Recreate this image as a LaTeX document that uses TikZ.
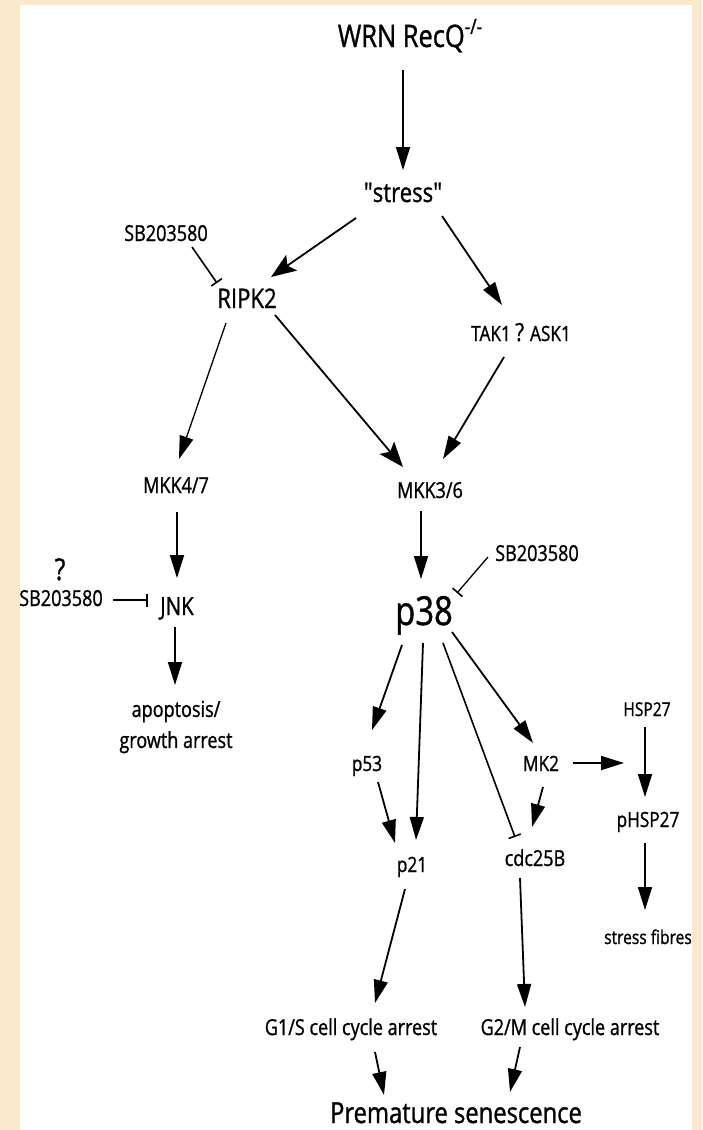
\documentclass[tikz,border=0pt]{standalone}
\usepackage{fontspec}
\setmainfont{Open Sans}[FakeStretch=0.82,FakeBold=1]
\newfontfamily\plainq{Open Sans}[FakeStretch=0.82,FakeBold=1]
\usetikzlibrary{arrows.meta,calc}
\definecolor{parch}{HTML}{F9EACB}
\begin{document}
\begin{tikzpicture}[x=1pt,y=-1pt,
  lbl/.style={inner sep=0pt,anchor=base,text=black},
  fs/.style={font=\fontsize{#1}{#1}\selectfont},
  act/.style={line width=1.8pt,-{Triangle[length=23pt,width=14pt]}},
  big/.style={line width=1.8pt,-{Stealth[length=25pt,width=19pt,inset=5pt]}},
  inh/.style={line width=1.6pt,-{Bar[width=13pt,line width=1.6pt]}}]
\useasboundingbox (0,0) rectangle (702,1130);
\fill[parch] (0,0) rectangle (702,1130);
\fill[white] (20,5) rectangle (692,1130);
% nodes
\node[lbl,fs=31] (wrn) at (410,47) {WRN RecQ\raisebox{0.42em}{\fontsize{21}{21}\selectfont -/-}};
\node[lbl,fs=27] (stress) at (403,202) {{\plainq"}stress{\plainq"}};
\node[lbl,fs=22] (sbA) at (166,241) {SB203580};
\node[lbl,fs=27] (ripk) at (247,308) {RIPK2};
\node[lbl,fs=21] (tak) at (521,341) {TAK1 {\fontsize{25}{25}\selectfont ?} ASK1};
\node[lbl,fs=22] (mkk47) at (176,493) {MKK4/7};
\node[lbl,fs=22] (mkk36) at (430,498) {MKK3/6};
\node[lbl,fs=22] (sbB) at (537,561) {SB203580};
\node[lbl,fs=30] (q) at (60,580) {?};
\node[lbl,fs=22] (sbC) at (61,606) {SB203580};
\node[lbl,fs=25] (jnk) at (177,615) {JNK};
\node[lbl,fs=40] (p38) at (424,625) {p38};
\node[inner sep=0pt,align=center,font=\fontsize{22}{31}\selectfont] (apo) at (176,727) {apoptosis/\\growth arrest};
\node[lbl,fs=19] (hsp) at (647,716) {HSP27};
\node[lbl,fs=21] (p53) at (367,771) {p53};
\node[lbl,fs=21] (mk2) at (541,771) {MK2};
\node[lbl,fs=21] (phsp) at (648,827) {pHSP27};
\node[lbl,fs=21] (p21) at (412,872) {p21};
\node[lbl,fs=22] (cdc) at (535,866) {cdc25B};
\node[lbl,fs=19] (fib) at (648,944) {stress fibres};
\node[lbl,fs=22] (g1) at (351,1035) {G1/S cell cycle arrest};
\node[lbl,fs=22] (g2) at (570,1035) {G2/M cell cycle arrest};
\node[lbl,fs=29] (pre) at (456,1123) {Premature senescence};
\coordinate (hspline) at ($(mk2.base)+(83,-8)$);
% connectors
\draw[act] ($(wrn.base)+(-7,23)$) -- ($(stress.base)+(0,-32)$);
\draw[big] ($(stress.base)+(-47,16)$) -- ($(ripk.base)+(24,-31)$);
\draw[act] ($(stress.base)+(39,14)$) -- ($(tak.base)+(-19,-36)$);
\draw[inh] ($(sbA.base)+(26,6)$) -- ($(ripk.base)+(-30,-25)$);
\draw[act,line width=1.3pt] ($(ripk.base)+(-21,15)$) -- ($(mkk47.base)+(3,-34)$);
\draw[big] ($(ripk.base)+(28,7)$) -- ($(mkk36.base)+(-27,-31)$);
\draw[act] ($(tak.base)+(-17,16)$) -- ($(mkk36.base)+(13,-39)$);
\draw[act] ($(mkk47.base)+(1,19)$) -- ($(jnk.base)+(0,-37)$);
\draw[act] ($(mkk36.base)+(-9,13)$) -- ($(p38.base)+(-3,-46)$);
\draw[inh,line width=1.3pt] ($(sbB.base)+(-49,-4)$) -- ($(p38.base)+(33,-32)$);
\draw[inh] ($(sbC.base)+(52,-6)$) -- ($(jnk.base)+(-29,-15)$);
\draw[act] ($(jnk.base)+(-2,12)$) -- ($(apo.center)+(-1,-42)$);
\draw[act] ($(p38.base)+(-22,20)$) -- ($(p53.base)+(5,-41)$);
\draw[act] ($(p38.base)+(-1,18)$) -- ($(p21.base)+(4,-32)$);
\draw[inh] ($(p38.base)+(19,18)$) -- ($(cdc.base)+(-20,-29)$);
\draw[act] ($(p38.base)+(28,7)$) -- ($(mk2.base)+(-8,-28)$);
\draw[act] ($(mk2.base)+(32,-8)$) -- (hspline);
\draw[act] ($(hsp.base)+(-2,11)$) -- ($(phsp.base)+(-3,-30)$);
\draw[act] ($(phsp.base)+(-3,16)$) -- ($(fib.base)+(-3,-34)$);
\draw[act] ($(p53.base)+(11,11)$) -- ($(p21.base)+(-17,-29)$);
\draw[act] ($(mk2.base)+(2,16)$) -- ($(cdc.base)+(-3,-39)$);
\draw[act] ($(p21.base)+(-7,17)$) -- ($(g1.base)+(24,-32)$);
\draw[act] ($(cdc.base)+(-15,12)$) -- ($(g2.base)+(-45,-28)$);
\draw[act] ($(g1.base)+(24,17)$) -- ($(pre.base)+(-72,-28)$);
\draw[act] ($(g2.base)+(-50,12)$) -- ($(pre.base)+(54,-31)$);
\end{tikzpicture}
\end{document}
